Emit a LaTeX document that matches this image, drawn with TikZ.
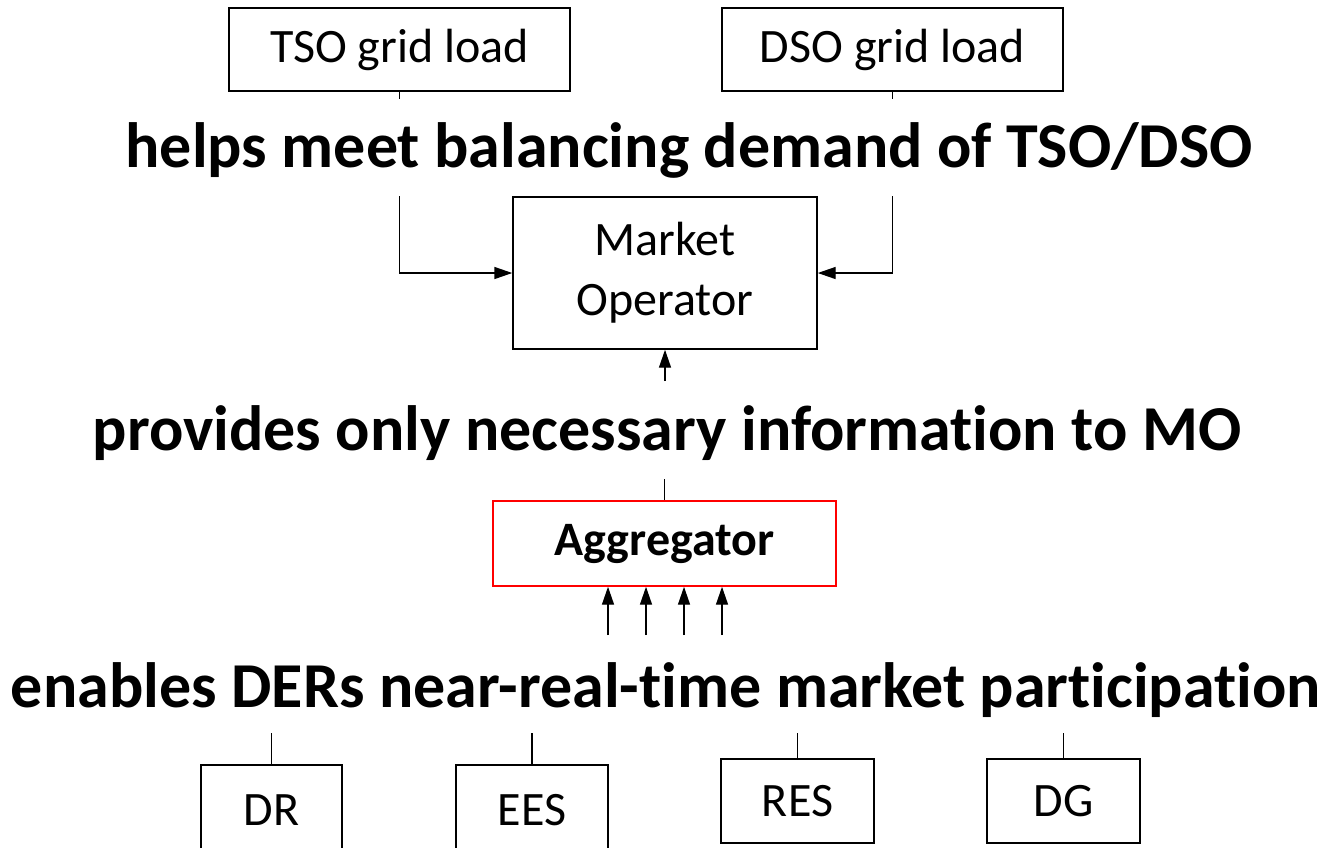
\documentclass[tikz,border=0pt]{standalone}
\usepackage{fontspec}
\setmainfont[Ligatures=NoCommon]{Carlito}
\usetikzlibrary{arrows.meta}
\begin{document}
\begin{tikzpicture}[x=0.75pt,y=-0.75pt,
  box/.style={draw=black,line width=1.1pt,inner sep=0pt,font=\fontsize{36}{40}\selectfont,align=center},
  title/.style={inner sep=0pt,font=\bfseries\fontsize{48}{52}\selectfont},
  con/.style={line width=1.1pt},
  arr/.style={line width=1.1pt,-{Triangle[length=13.5pt,width=9pt]}}]
\fill[white] (0,0) rectangle (1330,847);
\useasboundingbox (0,0) rectangle (1330,847);
\clip (0,0) rectangle (1330,847);
% boxes
\node[box,minimum width=255.75pt,minimum height=62.25pt] (tso) at (399.5,49.5) {TSO grid load};
\node[box,minimum width=255.75pt,minimum height=62.25pt] (dso) at (892.5,49.5) {DSO grid load};
\node[box,minimum width=228pt,minimum height=114pt] (mo) at (665,273) {Market\\[5pt]Operator};
\node[box,draw=red,font=\bfseries\fontsize{36}{40}\selectfont,minimum width=257.25pt,minimum height=63.75pt] (agg) at (664.5,543.5) {Aggregator};
\node[box,minimum width=105.75pt,minimum height=67.5pt] (dr) at (271.5,810) {DR};
\node[box,minimum width=114pt,minimum height=67.5pt] (ees) at (532,810) {EES};
\node[box,minimum width=114.75pt,minimum height=63pt] (res) at (797.5,801) {RES};
\node[box,minimum width=114.75pt,minimum height=63pt] (dg) at (1063.5,801) {DG};
% titles
\node[title] (t1) at (689,150) {helps meet balancing demand of TSO/DSO};
\node[title] (t2) at (667,433) {provides only necessary information to MO};
\node[title] (t3) at (666,690) {enables DERs near-real-time market participation};
% free ends
\coordinate (tsoS) at (399.5,99);
\coordinate (dsoS) at (892.5,99);
\coordinate (tsoL) at (399.5,196);
\coordinate (dsoL) at (892.5,196);
\coordinate (moB) at (665,381);
\coordinate (aggT) at (664.5,479);
\coordinate (derT) at (0,635);
\coordinate (drT) at (271.5,733);
\coordinate (eesT) at (532,733);
\coordinate (resT) at (797.5,733);
\coordinate (dgT) at (1063.5,733);
% connectors
\draw[con] (tso.south) -- (tsoS);
\draw[con] (dso.south) -- (dsoS);
\draw[arr] (tsoL) |- (mo.west);
\draw[arr] (dsoL) |- (mo.east);
\draw[arr] (moB) -- (mo.south);
\draw[con] (aggT) -- (agg.north);
\foreach \xx in {608,646,684,722}{
  \draw[arr] (derT -| \xx,0) -- (agg.south -| \xx,0);
}
\draw[con] (drT) -- (dr.north);
\draw[con] (eesT) -- (ees.north);
\draw[con] (resT) -- (res.north);
\draw[con] (dgT) -- (dg.north);
\end{tikzpicture}
\end{document}
